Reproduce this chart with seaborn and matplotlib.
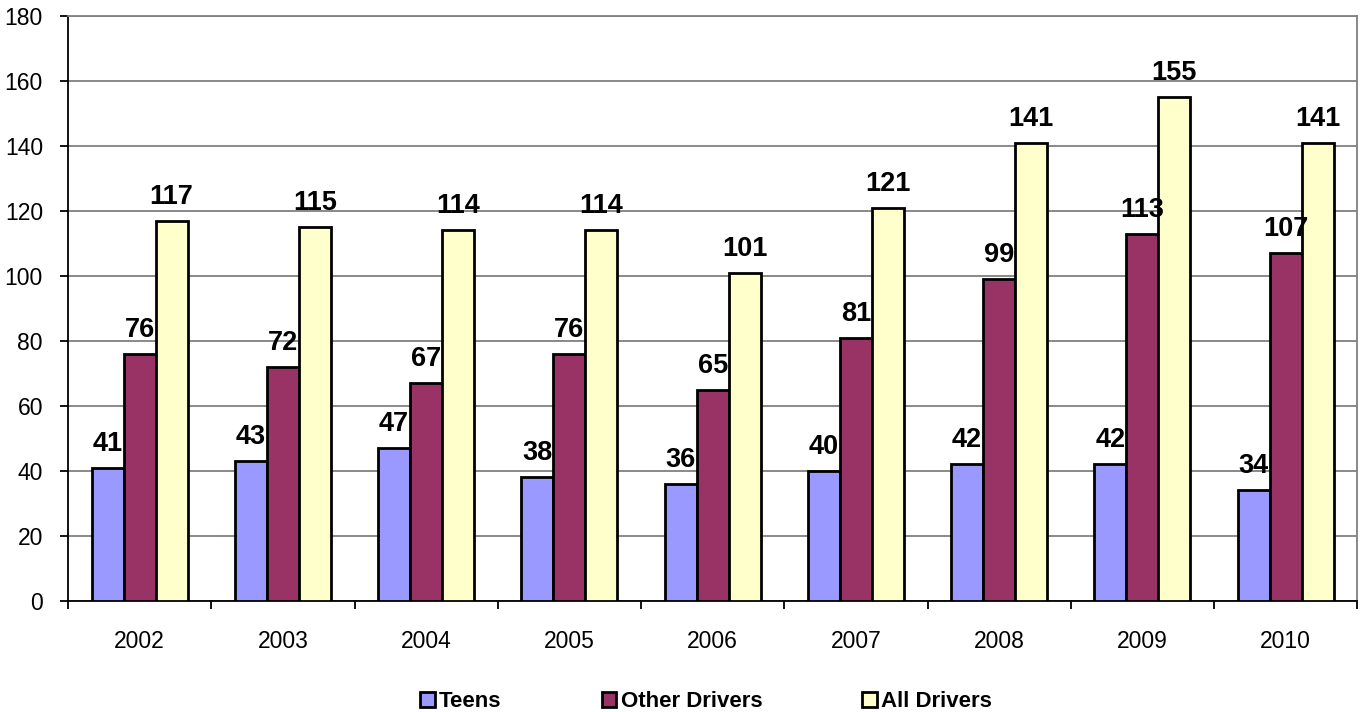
import matplotlib
matplotlib.use("Agg")
import matplotlib.pyplot as plt
import numpy as np
import pandas as pd
import seaborn as sns

years = ["2002", "2003", "2004", "2005", "2006", "2007", "2008", "2009", "2010"]
teens = [41, 43, 47, 38, 36, 40, 42, 42, 34]
other_drivers = [76, 72, 67, 76, 65, 81, 99, 113, 107]
all_drivers = [117, 115, 114, 114, 101, 121, 141, 155, 141]
series = ["Teens", "Other Drivers", "All Drivers"]
colors = ["#9999FF", "#993366", "#FFFFCC"]

df = pd.DataFrame({
    "year": years * 3,
    "value": teens + other_drivers + all_drivers,
    "series": [s for s in series for _ in years],
})

sns.set_style("white")
plt.rcParams["font.family"] = ["Liberation Sans", "DejaVu Sans"]
plt.rcParams.update({"text.color": "black", "xtick.color": "black",
                     "ytick.color": "black", "axes.labelcolor": "black"})

fig = plt.figure(figsize=(13.6, 7.12), dpi=100)
ax = fig.add_axes([0.05, 0.156, 0.948, 0.8215])

sns.barplot(data=df, x="year", y="value", hue="series", hue_order=series,
            palette=dict(zip(series, colors)), width=0.67, saturation=1,
            edgecolor="black", linewidth=2, gap=0, ax=ax, zorder=3)

for cont in ax.containers:
    ax.bar_label(cont, padding=8, fontsize=19.5, fontweight="bold", color="black")

ax.set_ylim(0, 180)
ax.set_yticks(np.arange(0, 181, 20))
ax.set_xlim(-0.5, len(years) - 0.5)
ax.yaxis.grid(True, color="#808080", linewidth=1.3, zorder=0)
ax.set_axisbelow(True)
ax.set_xlabel("")
ax.set_ylabel("")

for s in ["left", "bottom"]:
    ax.spines[s].set_color("black")
    ax.spines[s].set_linewidth(1.3)
for s in ["top", "right"]:
    ax.spines[s].set_color("#808080")
    ax.spines[s].set_linewidth(1.3)

ax.tick_params(axis="y", which="major", direction="out", length=6, width=1.3,
               labelsize=16.5, left=True, pad=12, colors="black")
ax.tick_params(axis="x", which="major", length=0, labelsize=16.5, pad=21, colors="black")
ax.set_xticks(np.arange(-0.5, len(years)), minor=True)
ax.tick_params(axis="x", which="minor", direction="out", length=6, width=1.3,
               bottom=True, colors="black")

handles, labels = ax.get_legend_handles_labels()
ax.legend(handles, labels, loc="center", bbox_to_anchor=(0.495, -0.172),
          ncol=3, frameon=False, handlelength=0.65, handleheight=0.65,
          handletextpad=0.2, columnspacing=4.5, labelcolor="black",
          prop={"weight": "bold", "size": 16})

fig.savefig("out.png", dpi=100)
